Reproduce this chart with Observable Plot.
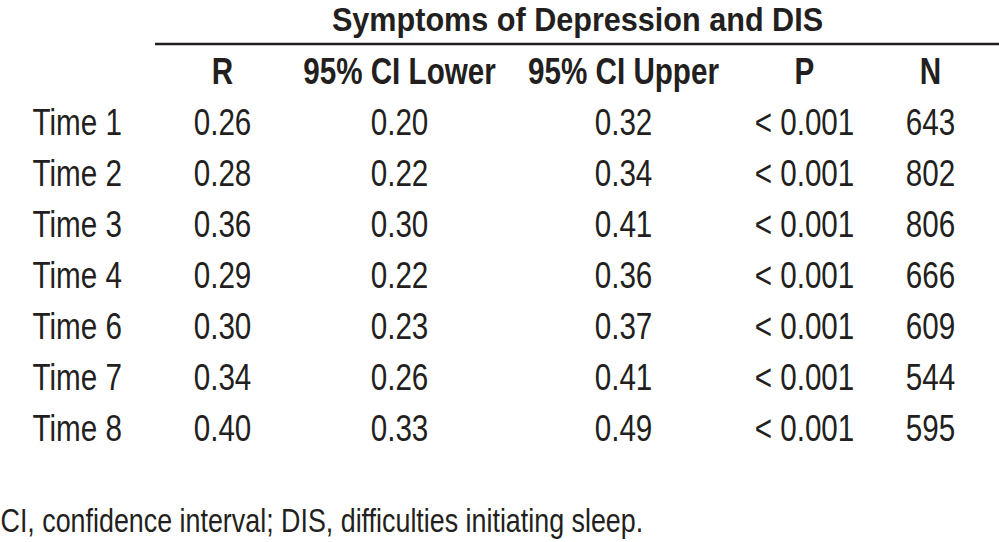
<!DOCTYPE html>
<html><head><meta charset="utf-8">
<script src="https://cdn.jsdelivr.net/npm/d3@7"></script>
<script src="https://cdn.jsdelivr.net/npm/@observablehq/plot@0.6"></script>
<style>body{margin:0;background:#fff} svg{display:block}</style>
</head><body><div id="chart"></div>
<script>
const title = "Symptoms of Depression and DIS";
const columns = ["R", "95% CI Lower", "95% CI Upper", "P", "N"];
const times = ["Time 1", "Time 2", "Time 3", "Time 4", "Time 6", "Time 7", "Time 8"];
const rValues = ["0.26", "0.28", "0.36", "0.29", "0.30", "0.34", "0.40"];
const ciLower = ["0.20", "0.22", "0.30", "0.22", "0.23", "0.26", "0.33"];
const ciUpper = ["0.32", "0.34", "0.41", "0.36", "0.37", "0.41", "0.49"];
const pValues = ["< 0.001", "< 0.001", "< 0.001", "< 0.001", "< 0.001", "< 0.001", "< 0.001"];
const nValues = ["643", "802", "806", "666", "609", "544", "595"];
const footnote = "CI, confidence interval; DIS, difficulties initiating sleep.";

const series = [rValues, ciLower, ciUpper, pValues, nValues];
const cells = [];
times.forEach((t, i) => columns.forEach((c, j) => cells.push({row: t, col: c, text: series[j][i]})));

// layout (style) constants
const FONT = "'Liberation Sans', Arial, Helvetica, sans-serif";
const INK = "#231f20";
const SIZE = 37.5;
const TITLE_SIZE = 34;
const colNudge = [0, 0, 47, 51, 0];

const marks = [
  Plot.text([title], {frameAnchor: "top", lineAnchor: "middle", dy: 20, fontSize: TITLE_SIZE, fontWeight: "bold", fill: INK}),
  Plot.ruleY(["header"], {y: d => d, dy: -27.5, stroke: INK, strokeWidth: 2.5}),
  Plot.text(times, {y: d => d, frameAnchor: "left", textAnchor: "start", dx: -123, fontSize: SIZE, fill: INK})
];
columns.forEach((c, j) => {
  marks.push(Plot.text([c], {x: d => d, y: () => "header", dx: colNudge[j], fontSize: SIZE, fontWeight: "bold", fill: INK}));
  marks.push(Plot.text(cells.filter(d => d.col === c), {x: "col", y: "row", text: "text", dx: colNudge[j], fontSize: SIZE, fill: INK}));
});
marks.push(Plot.text([footnote], {frameAnchor: "bottom-left", textAnchor: "start", lineAnchor: "middle", dx: -155, dy: -21, fontSize: 34, fill: INK}));

const chart = Plot.plot({
  width: 999,
  height: 542,
  marginLeft: 155,
  marginRight: 0,
  marginTop: 0,
  marginBottom: 0,
  style: {fontFamily: FONT, background: "#fff", overflow: "visible"},
  x: {type: "point", domain: columns, range: [220, 931], padding: 0, axis: null},
  y: {type: "point", domain: ["header", ...times], range: [68, 431], padding: 0, axis: null},
  marks
});
// condensed typeface look: narrow each label around its own anchor
chart.querySelectorAll("text").forEach(t => {
  const k = t.textContent === title ? 0.9 : 0.79;
  t.setAttribute("transform", (t.getAttribute("transform") || "") + ` scale(${k},1)`);
});
document.getElementById("chart").appendChild(chart);
</script>
</body></html>
